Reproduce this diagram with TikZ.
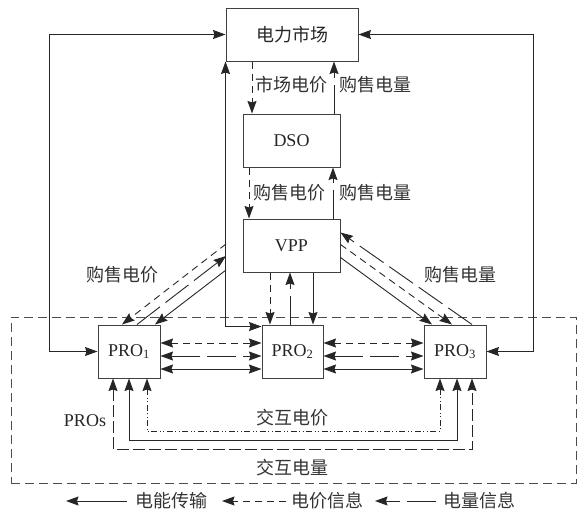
\documentclass[tikz,border=0pt]{standalone}
\usepackage{fontspec}
\setmainfont{Liberation Serif}
\newfontfamily\cjk{Noto Sans CJK SC}
\usetikzlibrary{arrows.meta}
\newcommand{\zhf}{\cjk\fontsize{18}{20}\selectfont}
\newcommand{\latf}{\fontsize{18}{20}\selectfont}
\begin{document}
\begin{tikzpicture}[x=1pt,y=-1pt,
  box/.style={draw=black!75, line width=1pt, inner sep=0pt, font=\latf, text=black!85},
  pow/.style={line width=0.9pt, draw=black!85},
  price/.style={pow, dash pattern=on 7pt off 5pt},
  qty/.style={pow, dash pattern=on 29pt off 7pt},
  xqty/.style={pow, dash pattern=on 12pt off 4pt},
  ddot/.style={pow, dash pattern=on 6pt off 2.5pt on 1pt off 2.5pt on 1pt off 2.5pt},
  lab/.style={font=\zhf, text=black!80, inner sep=0pt},
  >={Stealth[length=12.5pt,width=9pt,inset=1.5pt]}]
\useasboundingbox (0,0) rectangle (577,515);
% group frame
\node[draw=black!70, line width=0.8pt, dash pattern=on 9pt off 5pt, minimum width=565pt, minimum height=166pt, inner sep=0pt] (grp) at (293.5,400) {};
% boxes
\node[box, minimum width=132pt, minimum height=53pt] (mkt) at (292,34.5) {\zhf 电力市场};
\node[box, minimum width=97pt, minimum height=53pt] (dso) at (291.5,140.5) {DSO};
\node[box, minimum width=97pt, minimum height=53pt] (vpp) at (291.5,245.5) {VPP};
\node[box, minimum width=62pt, minimum height=53pt] (pro1) at (129,351.5) {PRO\textsubscript{1}};
\node[box, minimum width=61pt, minimum height=53pt] (pro2) at (292.5,351.5) {PRO\textsubscript{2}};
\node[box, minimum width=62pt, minimum height=53pt] (pro3) at (455,351.5) {PRO\textsubscript{3}};
% outer loops to market
\draw[pow,<->] (pro1.west) -- ++(-48,0) |- (mkt.west);
\draw[pow,<->] (pro3.east) -- ++(47,0) |- (mkt.east);
\draw[pow,<->] (mkt.south west) |- ([yshift=-2pt]pro2.north west);
% market - DSO
\draw[price,->] ([xshift=-40pt]mkt.south) -- ([xshift=-40pt]mkt.south |- dso.north);
\draw[qty,->] ([xshift=42pt]mkt.south |- dso.north) -- ([xshift=42pt]mkt.south);
% DSO - VPP
\draw[price,->] ([xshift=-42.5pt]dso.south) -- ([xshift=-42.5pt]dso.south |- vpp.north);
\draw[qty,->] ([xshift=41.5pt]dso.south |- vpp.north) -- ([xshift=41.5pt]dso.south);
% VPP - PRO2
\draw[price,->] ([xshift=-21.5pt]vpp.south) -- ([xshift=-21.5pt]vpp.south |- pro2.north);
\draw[qty,->] ([xshift=-1.5pt]vpp.south |- pro2.north) -- ([xshift=-1.5pt]vpp.south);
\draw[pow,->] ([xshift=21.5pt]vpp.south) -- ([xshift=21.5pt]vpp.south |- pro2.north);
% VPP - PRO1
\coordinate (la) at (226,244);
\coordinate (lb) at (226,256);
\coordinate (lc) at (226,270);
\draw[price,->] (la) -- ([xshift=-7pt]pro1.north);
\draw[qty,->] ([xshift=8pt]pro1.north) -- (lb);
\draw[pow,->] (lc) -- ([xshift=26pt]pro1.north);
% VPP - PRO3
\draw[qty,->] ([xshift=17pt]pro3.north) -- ([yshift=-14pt]vpp.north east);
\draw[price,->] ([yshift=-26pt]vpp.north east) -- ([xshift=-3pt]pro3.north);
\draw[pow,->] ([yshift=-39pt]vpp.north east) -- ([xshift=-23pt]pro3.north);
% PRO - PRO horizontals
\foreach \a/\b in {pro1/pro2, pro2/pro3} {
  \draw[price,<->] ([yshift=8.5pt]\a.east) -- ([yshift=8.5pt]\b.west);
  \draw[qty,<->] ([yshift=-4.5pt]\a.east) -- ([yshift=-4.5pt]\b.west);
  \draw[pow,<->] ([yshift=-17.5pt]\a.east) -- ([yshift=-17.5pt]\b.west);
}
% bottom PRO1 - PRO3
\draw[xqty,<->] ([xshift=-16pt]pro1.south) -- ++(0,71) -| ([xshift=17pt]pro3.south);
\draw[pow,<->] (pro1.south) -- ++(0,62) -| ([xshift=2pt]pro3.south);
\draw[ddot,<->] ([xshift=18pt]pro1.south) -- ++(0,53) -| ([xshift=-15pt]pro3.south);
% labels
\node[lab, anchor=west] (t1) at (255,85) {市场电价};
\node[lab, anchor=west] (t2) at (339,85) {购售电量};
\node[lab, anchor=west] (t3) at (253,193) {购售电价};
\node[lab, anchor=west] (t4) at (339,193) {购售电量};
\node[lab] (t5) at (122.5,275) {购售电价};
\node[lab] (t6) at (460,275) {购售电量};
\node[lab] (t7) at (292,418) {交互电价};
\node[lab] (t8) at (292,468) {交互电量};
\node[font=\latf, text=black!85, inner sep=0pt] (t9) at (85,421) {PROs};
% legend
\node[lab, anchor=west] (g1) at (135,501) {电能传输};
\node[lab, anchor=west] (g2) at (291.5,501) {电价信息};
\node[lab, anchor=west] (g3) at (443,501) {电量信息};
\draw[pow,->] ([xshift=-8pt]g1.west) -- ++(-61,0);
\draw[price,->] ([xshift=-5.5pt]g2.west) -- ++(-64,0);
\draw[qty,->] ([xshift=-7pt]g3.west) -- ++(-61,0);
\end{tikzpicture}
\end{document}
